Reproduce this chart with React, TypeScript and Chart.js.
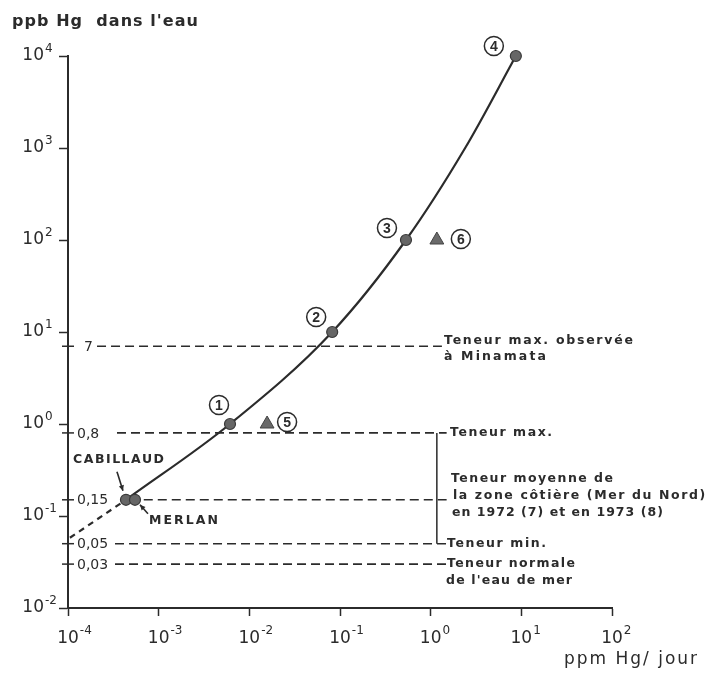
import React, { useEffect, useRef } from 'react';
import { Chart, registerables } from 'chart.js';

Chart.register(...registerables);

// ---- tick values and labels (base "10" + exponent) ----
const xTickValues = [1e-4, 1e-3, 1e-2, 1e-1, 1, 10, 100];
const xTickBase = ['10', '10', '10', '10', '10', '10', '10'];
const xTickExponents = ['-4', '-3', '-2', '-1', '0', '1', '2'];
const yTickValues = [1e-2, 1e-1, 1, 10, 100, 1000, 10000];
const yTickBase = ['10', '10', '10', '10', '10', '10', '10'];
const yTickExponents = ['-2', '-1', '0', '1', '2', '3', '4'];

// ---- dose / concentration curve ----
const curveX = [4.36e-4, 6.12e-3, 8.2e-2, 0.534, 2.4, 8.7];
const curveY = [0.15, 1, 10, 100, 1000, 10000];
const extensionX = [1.05e-4, 4.36e-4];
const extensionY = [0.058, 0.15];

// ---- studies (numbered) ----
const studyLabels = ['1', '2', '3', '4'];
const studyX = [6.12e-3, 8.2e-2, 0.534, 8.7];
const studyY = [1, 10, 100, 10000];
const triangleLabels = ['5', '6'];
const triangleX = [0.0157, 1.17];
const triangleY = [1, 100];

// ---- fish ----
const fishLabels = ['CABILLAUD', 'MERLAN'];
const fishX = [4.36e-4, 5.48e-4];
const fishY = [0.15, 0.15];

// ---- reference levels ----
const refValues = [7, 0.8, 0.15, 0.05, 0.03];
const refLabels = ['7', '0,8', '0,15', '0,05', '0,03'];
const refStartX = [2.09e-4, 3.47e-4, 4.8e-4, 3.3e-4, 3.3e-4];
const refEndX = [1.33, 1.5, 1.5, 1.5, 1.52];
const bracketX = [1.17, 1.17];
const bracketY = [0.8, 0.05];

const yAxisTitle = "ppb Hg  dans l'eau";
const xAxisTitle = 'ppm Hg/ jour';
const minamataNote = ['Teneur max. observée', 'à Minamata'];
const maxNote = 'Teneur max.';
const meanNote = ['Teneur moyenne de', 'la zone côtière (Mer du Nord)', 'en 1972 (7) et en 1973 (8)'];
const minNote = 'Teneur min.';
const normalNote = ['Teneur normale', "de l'eau de mer"];

const INK = '#2b2b2b';
const NOTE_FONT = "bold 12.5px 'DejaVu Sans'";
const TICK_FONT = "17px 'DejaVu Sans'";
const EXP_FONT = "12px 'DejaVu Sans'";

function fitText(ctx: CanvasRenderingContext2D, text: string, x: number, y: number, font: string, width: number) {
  ctx.save();
  ctx.font = font;
  (ctx as any).letterSpacing = '0px';
  const w = ctx.measureText(text).width;
  const n = Math.max(1, text.length - 1);
  const sp = (width - w) / n;
  (ctx as any).letterSpacing = sp.toFixed(2) + 'px';
  ctx.textAlign = 'left';
  ctx.textBaseline = 'middle';
  ctx.fillStyle = INK;
  ctx.fillText(text, x, y);
  ctx.restore();
}

function arrow(ctx: CanvasRenderingContext2D, x1: number, y1: number, x2: number, y2: number) {
  ctx.save();
  ctx.strokeStyle = INK;
  ctx.fillStyle = INK;
  ctx.lineWidth = 1.6;
  ctx.beginPath();
  ctx.moveTo(x1, y1);
  ctx.lineTo(x2, y2);
  ctx.stroke();
  const a = Math.atan2(y2 - y1, x2 - x1);
  const L = 6;
  ctx.beginPath();
  ctx.moveTo(x2, y2);
  ctx.lineTo(x2 - L * Math.cos(a - 0.45), y2 - L * Math.sin(a - 0.45));
  ctx.lineTo(x2 - L * Math.cos(a + 0.45), y2 - L * Math.sin(a + 0.45));
  ctx.closePath();
  ctx.fill();
  ctx.restore();
}

function circled(ctx: CanvasRenderingContext2D, label: string, cx: number, cy: number) {
  ctx.save();
  ctx.strokeStyle = INK;
  ctx.lineWidth = 1.5;
  ctx.beginPath();
  ctx.arc(cx, cy, 9.5, 0, Math.PI * 2);
  ctx.stroke();
  ctx.fillStyle = INK;
  ctx.font = "bold 14px 'Liberation Sans'";
  ctx.textAlign = 'center';
  ctx.textBaseline = 'middle';
  ctx.fillText(label, cx, cy + 1);
  ctx.restore();
}

function drawExponents(ctx: CanvasRenderingContext2D, scale: any, values: number[], exps: string[], horizontal: boolean) {
  const items = scale.getLabelItems ? scale.getLabelItems() : [];
  ctx.save();
  ctx.font = TICK_FONT;
  const w10 = ctx.measureText('10').width;
  ctx.font = EXP_FONT;
  ctx.fillStyle = INK;
  ctx.textAlign = 'left';
  ctx.textBaseline = 'middle';
  scale.ticks.forEach((t: any, i: number) => {
    const k = values.indexOf(Number(t.value));
    if (k < 0) return;
    const item = items[i];
    if (!item) return;
    const [tx, ty] = item.options.translation;
    const midY = ty + (item.textOffset || 0);
    const ex = horizontal ? tx + w10 / 2 + 1 : tx + 1;
    ctx.fillText(exps[k], ex, midY - 7);
  });
  ctx.restore();
}

const annotationPlugin = {
  id: 'annotations',
  beforeDraw(chart: any) {
    const ctx = chart.ctx;
    ctx.save();
    ctx.fillStyle = '#ffffff';
    ctx.fillRect(0, 0, chart.width, chart.height);
    ctx.restore();
  },
  afterDraw(chart: any) {
    const ctx: CanvasRenderingContext2D = chart.ctx;
    const xs = chart.scales.x;
    const ys = chart.scales.y;
    const left = chart.chartArea.left;

    // tick exponents
    drawExponents(ctx, xs, xTickValues, xTickExponents, true);
    drawExponents(ctx, ys, yTickValues, yTickExponents, false);

    // axis titles
    fitText(ctx, yAxisTitle, 12, 22, "bold 16px 'DejaVu Sans'", 186);
    fitText(ctx, xAxisTitle, 564, 660, "17px 'DejaVu Sans'", 133);

    // reference level labels + crossing ticks on the y axis
    ctx.save();
    ctx.strokeStyle = INK;
    ctx.lineWidth = 1.5;
    refValues.forEach((v, i) => {
      const py = ys.getPixelForValue(v);
      ctx.beginPath();
      ctx.moveTo(left - 6, py);
      ctx.lineTo(left + 6, py);
      ctx.stroke();
      ctx.fillStyle = INK;
      ctx.font = "14px 'DejaVu Sans'";
      ctx.textAlign = 'left';
      ctx.textBaseline = 'middle';
      ctx.fillText(refLabels[i], i === 0 ? left + 16 : left + 9, py + 1);
    });
    ctx.restore();

    // notes on the right
    const p7 = ys.getPixelForValue(7);
    fitText(ctx, minamataNote[0], 444, p7 - 6, NOTE_FONT, 189);
    fitText(ctx, minamataNote[1], 444, p7 + 10, NOTE_FONT, 102);
    const p08 = ys.getPixelForValue(0.8);
    fitText(ctx, maxNote, 450, p08, NOTE_FONT, 102);
    const p015 = ys.getPixelForValue(0.15);
    fitText(ctx, meanNote[0], 451, p015 - 21, NOTE_FONT, 162);
    fitText(ctx, meanNote[1], 453, p015 - 4, NOTE_FONT, 252);
    fitText(ctx, meanNote[2], 452, p015 + 13, NOTE_FONT, 211);
    const p005 = ys.getPixelForValue(0.05);
    fitText(ctx, minNote, 447, p005, NOTE_FONT, 99);
    const p003 = ys.getPixelForValue(0.03);
    fitText(ctx, normalNote[0], 447, p003, NOTE_FONT, 128);
    fitText(ctx, normalNote[1], 446, p003 + 17, NOTE_FONT, 126);

    // circled study numbers
    const offsets = [[-11, -19], [-16, -15], [-19, -12], [-22, -10]];
    studyLabels.forEach((lab, i) => {
      const px = xs.getPixelForValue(studyX[i]);
      const py = ys.getPixelForValue(studyY[i]);
      circled(ctx, lab, px + offsets[i][0], py + offsets[i][1]);
    });
    const tOffsets = [[20, -2], [24, -1]];
    triangleLabels.forEach((lab, i) => {
      const px = xs.getPixelForValue(triangleX[i]);
      const py = ys.getPixelForValue(triangleY[i]);
      circled(ctx, lab, px + tOffsets[i][0], py + tOffsets[i][1]);
    });

    // fish labels and arrows
    const cx = xs.getPixelForValue(fishX[0]);
    const cy = ys.getPixelForValue(fishY[0]);
    fitText(ctx, fishLabels[0], cx - 53, cy - 40, NOTE_FONT, 91);
    arrow(ctx, cx - 9, cy - 28, cx - 3, cy - 9);
    const mx = xs.getPixelForValue(fishX[1]);
    const my = ys.getPixelForValue(fishY[1]);
    fitText(ctx, fishLabels[1], mx + 14, my + 21, NOTE_FONT, 69);
    arrow(ctx, mx + 13, my + 14, mx + 5, my + 5);
  },
};

export default function App() {
  const ref = useRef<HTMLCanvasElement | null>(null);

  useEffect(() => {
    if (!ref.current) return;
    const toXY = (xa: number[], ya: number[]) => xa.map((x, i) => ({ x, y: ya[i] }));

    const refSets = refValues.map((v, i) => ({
      type: 'line' as const,
      data: [{ x: refStartX[i], y: v }, { x: refEndX[i], y: v }],
      borderColor: INK,
      borderWidth: 1.6,
      borderDash: [9, 5],
      pointRadius: 0,
      fill: false,
      clip: false as any,
      order: 5,
    }));

    const chart = new Chart(ref.current, {
      type: 'line',
      data: {
        datasets: [
          {
            type: 'scatter',
            data: toXY(studyX, studyY).concat(toXY(fishX, fishY)),
            pointRadius: 5.5,
            pointBackgroundColor: '#666',
            pointBorderColor: '#3a3a3a',
            pointBorderWidth: 1.2,
            showLine: false,
            clip: false as any,
            order: 0,
          } as any,
          {
            type: 'scatter',
            data: toXY(triangleX, triangleY),
            pointStyle: 'triangle',
            pointRadius: 8,
            pointBackgroundColor: '#6a6a6a',
            pointBorderColor: '#444',
            pointBorderWidth: 1,
            showLine: false,
            clip: false as any,
            order: 0,
          } as any,
          {
            type: 'line',
            data: toXY(curveX, curveY),
            borderColor: INK,
            borderWidth: 2.2,
            cubicInterpolationMode: 'monotone',
            pointRadius: 0,
            fill: false,
            clip: false as any,
            order: 1,
          } as any,
          {
            type: 'line',
            data: toXY(extensionX, extensionY),
            borderColor: INK,
            borderWidth: 2.2,
            borderDash: [6, 5],
            pointRadius: 0,
            fill: false,
            clip: false as any,
            order: 1,
          } as any,
          {
            type: 'line',
            data: toXY(bracketX, bracketY),
            borderColor: INK,
            borderWidth: 1.5,
            pointRadius: 0,
            fill: false,
            clip: false as any,
            order: 4,
          } as any,
          ...(refSets as any[]),
        ],
      },
      options: {
        responsive: false,
        animation: false,
        devicePixelRatio: 1,
        layout: { padding: { left: 0, top: 56, right: 98, bottom: 22 } },
        plugins: { legend: { display: false }, tooltip: { enabled: false } },
        scales: {
          x: {
            type: 'logarithmic',
            min: 1e-4,
            max: 100,
            afterBuildTicks: (s: any) => {
              s.ticks = xTickValues.map((v) => ({ value: v }));
            },
            afterFit: (s: any) => {
              s.height = 45;
            },
            ticks: {
              autoSkip: false,
              maxRotation: 0,
              padding: 12,
              color: INK,
              font: { family: "'DejaVu Sans'", size: 17 },
              callback: (v: any) => xTickBase[xTickValues.indexOf(Number(v))] ?? '',
            },
            grid: { drawOnChartArea: false, drawTicks: true, tickLength: 8, tickWidth: 1.5, color: INK },
            border: { display: true, color: INK, width: 2 },
          },
          y: {
            type: 'logarithmic',
            min: 1e-2,
            max: 1e4,
            afterBuildTicks: (s: any) => {
              s.ticks = yTickValues.map((v) => ({ value: v }));
            },
            afterFit: (s: any) => {
              s.width = 68;
            },
            ticks: {
              autoSkip: false,
              padding: 15,
              color: INK,
              font: { family: "'DejaVu Sans'", size: 17 },
              callback: (v: any) => yTickBase[yTickValues.indexOf(Number(v))] ?? '',
            },
            grid: { drawOnChartArea: false, drawTicks: true, tickLength: 9, tickWidth: 1.5, color: INK },
            border: { display: true, color: INK, width: 2 },
          },
        },
      } as any,
      plugins: [annotationPlugin],
    });
    return () => chart.destroy();
  }, []);

  return (
    <div style={{ position: 'absolute', left: 0, top: 0, width: 710, height: 675 }}>
      <canvas ref={ref} width={710} height={675} style={{ display: 'block' }} />
    </div>
  );
}
